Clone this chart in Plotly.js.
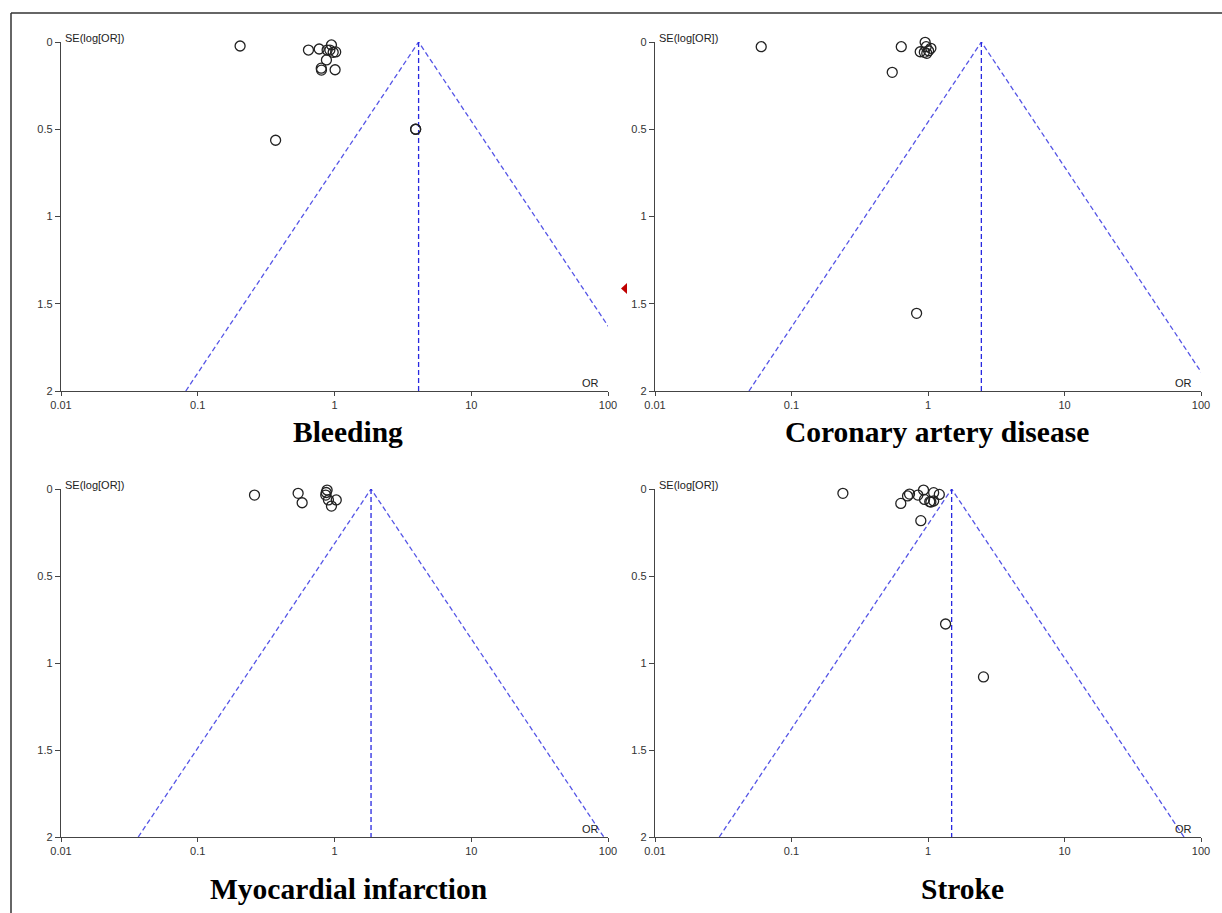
<!DOCTYPE html>
<html>
<head>
<meta charset="utf-8">
<script src="https://cdn.plot.ly/plotly-3.0.1.min.js"></script>
<style>html,body{margin:0;padding:0;background:#fff;}#chart{width:1222px;height:913px;}</style>
</head>
<body>
<div id="chart"></div>
<script>
// ---- data ----
const panelTitles = ["Bleeding", "Coronary artery disease", "Myocardial infarction", "Stroke"];

const bleedingOR = [0.204, 0.371, 0.645, 0.773, 0.883, 0.95, 0.925, 0.978, 1.02, 0.873, 0.803, 0.80, 1.01, 3.92, 3.92];
const bleedingSE = [0.023, 0.563, 0.046, 0.040, 0.046, 0.017, 0.046, 0.059, 0.057, 0.103, 0.161, 0.150, 0.159, 0.50, 0.50];

const cadOR = [0.060, 0.637, 0.547, 0.953, 0.877, 1.05, 0.98, 0.94, 1.01, 0.97, 0.825];
const cadSE = [0.027, 0.027, 0.174, 0.002, 0.056, 0.036, 0.065, 0.059, 0.050, 0.027, 1.555];

const miOR = [0.26, 0.542, 0.58, 0.883, 0.863, 0.903, 1.03, 0.95, 0.87];
const miSE = [0.035, 0.025, 0.079, 0.006, 0.035, 0.063, 0.063, 0.098, 0.020];

const strokeOR = [0.238, 0.632, 0.708, 0.732, 0.843, 0.927, 0.943, 1.03, 1.10, 1.10, 1.21, 1.05, 0.886, 1.345, 2.55];
const strokeSE = [0.025, 0.083, 0.040, 0.029, 0.035, 0.006, 0.060, 0.073, 0.069, 0.021, 0.031, 0.075, 0.182, 0.776, 1.080];

const pooledOR = [4.12, 2.46, 1.85, 1.49];   // apex of each funnel
const seMax = 2;                            // bottom of SE axis
const z95 = 1.96;

const xTickVals = [0.01, 0.1, 1, 10, 100];
const xTickText = ["0.01", "0.1", "1", "10", "100"];
const yTickVals = [0, 0.5, 1, 1.5, 2];
const yTickText = ["0", "0.5", "1", "1.5", "2"];

// ---- layout geometry (pixels) ----
const W = 1222, H = 913;
const colX = [[61, 608], [655, 1201]];
const rowY = [[42, 391], [489, 837]];
const titlePos = [[348, 432], [937, 432], [348, 889], [962, 889]];

const ORs = [bleedingOR, cadOR, miOR, strokeOR];
const SEs = [bleedingSE, cadSE, miSE, strokeSE];

const traces = [];
const layout = {
  width: W, height: H,
  margin: {l: 0, r: 0, t: 0, b: 0},
  paper_bgcolor: "#fff", plot_bgcolor: "#fff",
  showlegend: false,
  font: {family: "Liberation Sans, Arial, sans-serif", size: 11, color: "#222"},
  annotations: [],
  shapes: []
};

const tickFont = {family: "Liberation Sans, Arial, sans-serif", size: 11, color: "#333"};

for (let i = 0; i < 4; i++) {
  const n = i + 1;
  const xa = n === 1 ? "x" : "x" + n;
  const ya = n === 1 ? "y" : "y" + n;
  const col = i % 2, row = Math.floor(i / 2);
  const xd = [colX[col][0] / W, colX[col][1] / W];
  const yd = [1 - rowY[row][1] / H, 1 - rowY[row][0] / H];

  layout["xaxis" + (n === 1 ? "" : n)] = {
    type: "log", range: [-2, 2], domain: xd, anchor: ya,
    tickvals: xTickVals, ticktext: xTickText,
    ticks: "outside", ticklen: 4, tickcolor: "#444", tickwidth: 1,
    showline: true, linecolor: "#444", linewidth: 1.2,
    showgrid: false, zeroline: false, tickfont: tickFont, fixedrange: true
  };
  layout["yaxis" + (n === 1 ? "" : n)] = {
    range: [seMax, 0], domain: yd, anchor: xa,
    tickvals: yTickVals, ticktext: yTickText,
    ticks: "outside", ticklen: 5, tickcolor: "#444", tickwidth: 1,
    showline: true, linecolor: "#444", linewidth: 1.2,
    showgrid: false, zeroline: false, tickfont: tickFont, fixedrange: true
  };

  // funnel (95% pseudo-CI) from pooled estimate
  const apex = pooledOR[i];
  const k = z95 * seMax / Math.LN10;
  traces.push({
    type: "scatter", mode: "lines", xaxis: xa, yaxis: ya,
    x: [apex * Math.pow(10, -k), apex, apex * Math.pow(10, k)],
    y: [seMax, 0, seMax],
    line: {color: "rgb(85,85,230)", width: 1.3, dash: "5px,3px"},
    hoverinfo: "skip"
  });
  traces.push({
    type: "scatter", mode: "lines", xaxis: xa, yaxis: ya,
    x: [apex, apex], y: [0, seMax],
    line: {color: "rgb(40,40,225)", width: 1.3, dash: "5px,3px"},
    hoverinfo: "skip"
  });
  traces.push({
    type: "scatter", mode: "markers", xaxis: xa, yaxis: ya,
    x: ORs[i], y: SEs[i],
    marker: {symbol: "circle-open", size: 10, color: "#222", line: {width: 1.3, color: "#222"}},
    cliponaxis: false
  });

  layout.annotations.push({
    text: "SE(log[OR])", xref: xa + " domain", yref: ya + " domain",
    x: 0, y: 1, xanchor: "left", yanchor: "bottom", xshift: 2, yshift: -4,
    showarrow: false, font: {family: "Liberation Sans, Arial, sans-serif", size: 11, color: "#222"}
  });
  layout.annotations.push({
    text: "OR", xref: xa + " domain", yref: ya + " domain",
    x: 1, y: 0, xanchor: "right", yanchor: "bottom", xshift: -7, yshift: 0,
    showarrow: false, font: {family: "Liberation Sans, Arial, sans-serif", size: 11, color: "#222"}
  });
  layout.annotations.push({
    text: panelTitles[i], xref: "paper", yref: "paper",
    x: titlePos[i][0] / W, y: 1 - titlePos[i][1] / H, xanchor: "center", yanchor: "middle",
    showarrow: false,
    font: {family: "Liberation Serif, Times New Roman, serif", size: 29.5, color: "#000", weight: "bold"}
  });
}

// frame lines of the figure (left and top)
layout.shapes.push({type: "line", xref: "paper", yref: "paper", x0: 11 / W, x1: 11 / W, y0: 0, y1: 1 - 13 / H, line: {color: "#333", width: 1.5}});
layout.shapes.push({type: "line", xref: "paper", yref: "paper", x0: 11 / W, x1: 1, y0: 1 - 13 / H, y1: 1 - 13 / H, line: {color: "#333", width: 1.5}});
// small red marker artefact at the panel edge
layout.shapes.push({type: "path", xref: "paper", yref: "paper",
  path: "M " + (627 / W) + " " + (1 - 283 / H) + " L " + (627 / W) + " " + (1 - 294 / H) + " L " + (621 / W) + " " + (1 - 288.5 / H) + " Z",
  fillcolor: "#c00000", line: {width: 0}});

Plotly.newPlot("chart", traces, layout, {displayModeBar: false, staticPlot: true});
</script>
</body>
</html>
